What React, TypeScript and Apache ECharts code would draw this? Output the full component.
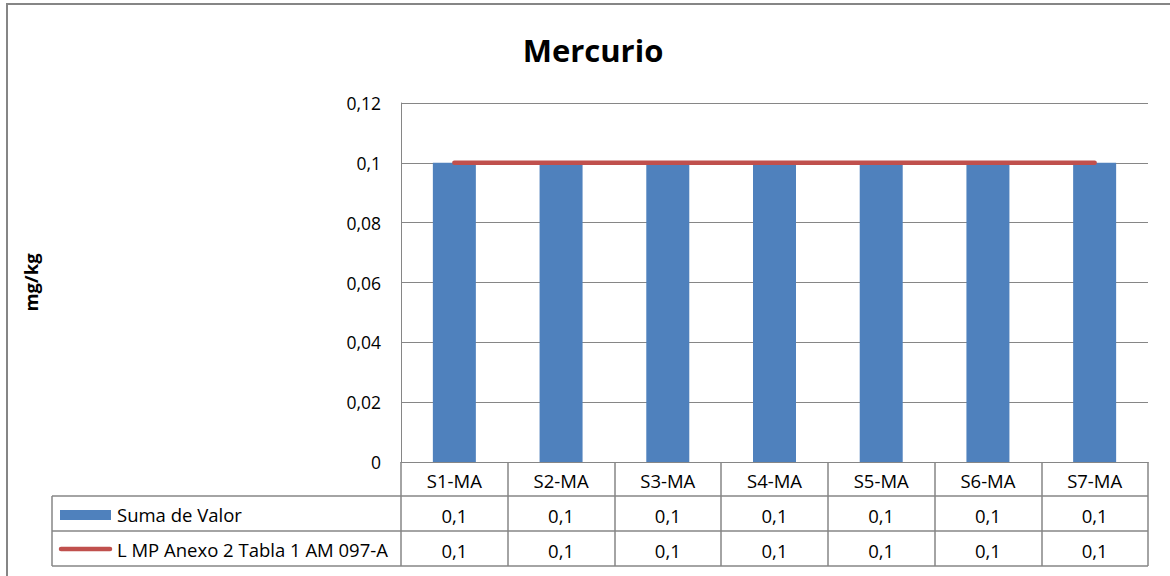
import React, { useEffect, useRef } from "react";
import * as echarts from "echarts";

const categories = ["S1-MA", "S2-MA", "S3-MA", "S4-MA", "S5-MA", "S6-MA", "S7-MA"];
const sumaDeValor = [0.1, 0.1, 0.1, 0.1, 0.1, 0.1, 0.1];
const limiteMP = [0.1, 0.1, 0.1, 0.1, 0.1, 0.1, 0.1];
const seriesNames = ["Suma de Valor", "L MP Anexo 2 Tabla 1 AM 097-A"];
const yMin = 0;
const yMax = 0.12;
const yStep = 0.02;
const chartTitle = "Mercurio";
const yName = "mg/kg";

const fmt = (v: number) => String(Math.round(v * 1000) / 1000).replace(".", ",");

const FONT = "'Open Sans', 'Noto Sans', sans-serif";
const GRID = "#868686";
const BLUE = "#4F81BD";
const RED = "#C0504D";
const FS = 18.5;

export default function App() {
  const ref = useRef<HTMLDivElement>(null);
  useEffect(() => {
    if (!ref.current) return;
    const chart = echarts.init(ref.current, undefined, { renderer: "svg" });
    const gridLeft = 401;
    const gridTop = 103;
    const gridW = 747;
    const gridH = 359;
    const rowH = 35;
    const tableLeft = 52;
    const tableRight = gridLeft + gridW;
    const baseY = gridTop + gridH;

    const labelStyle = { fontFamily: FONT, fontSize: FS, color: "#000" };
    const valueAxis = (offset: number, values: number[]) => ({
      type: "category",
      data: categories,
      gridIndex: 0,
      position: "bottom",
      offset,
      axisLine: { show: false },
      axisTick: { show: false },
      axisLabel: {
        ...labelStyle,
        margin: 7,
        lineHeight: 22,
        interval: 0,
        formatter: (_: string, i: number) => fmt(values[i]),
      },
    });

    chart.setOption({
      animation: false,
      backgroundColor: "#fff",
      grid: { left: gridLeft, top: gridTop, width: gridW, height: gridH, containLabel: false },
      xAxis: [
        {
          type: "category",
          data: categories,
          axisLine: { show: true, lineStyle: { color: GRID, width: 1 } },
          axisTick: { show: true, length: rowH * 3 - 1, lineStyle: { color: GRID, width: 1.5 } },
          axisLabel: { ...labelStyle, margin: 7, lineHeight: 22, interval: 0 },
        },
        valueAxis(rowH, sumaDeValor),
        valueAxis(rowH * 2, limiteMP),
      ],
      yAxis: {
        type: "value",
        min: yMin,
        max: yMax,
        interval: yStep,
        name: yName,
        nameLocation: "middle",
        nameRotate: 90,
        nameGap: 361,
        nameTextStyle: { fontFamily: FONT, fontSize: 18.5, fontWeight: "bold", color: "#000" },
        axisLine: { show: true, lineStyle: { color: GRID, width: 1 } },
        axisTick: { show: false },
        axisLabel: { fontFamily: FONT, fontSize: 17.5, color: "#000", margin: 20, formatter: (v: number) => fmt(v) },
        splitLine: { show: true, lineStyle: { color: GRID, width: 1 } },
      },
      series: [
        {
          name: seriesNames[0],
          type: "bar",
          data: sumaDeValor,
          barWidth: 43,
          itemStyle: { color: BLUE },
        },
        {
          name: seriesNames[1],
          type: "line",
          data: limiteMP,
          symbol: "none",
          lineStyle: { color: RED, width: 4.5, cap: "round" },
          z: 5,
        },
      ],
      graphic: [
        {
          type: "rect",
          shape: { x: 7, y: 4, width: 1200, height: 620 },
          style: { fill: "none", stroke: GRID, lineWidth: 2 },
          silent: true,
        },
        {
          type: "text",
          x: 593,
          y: 50,
          style: {
            text: chartTitle,
            fontFamily: FONT,
            fontSize: 31,
            fontWeight: "bold",
            fill: "#000",
            textAlign: "center",
            textVerticalAlign: "middle",
          },
        },
        ...[1, 2, 3].map((k) => ({
          type: "line",
          shape: { x1: tableLeft, y1: baseY + rowH * k - 1, x2: tableRight, y2: baseY + rowH * k - 1 },
          style: { stroke: GRID, lineWidth: 1.5 },
        })),
        {
          type: "line",
          shape: { x1: tableLeft, y1: baseY + rowH - 1, x2: tableLeft, y2: baseY + rowH * 3 - 1 },
          style: { stroke: GRID, lineWidth: 1.5 },
        },
        {
          type: "rect",
          shape: { x: 60, y: baseY + rowH + 13, width: 51, height: 10 },
          style: { fill: BLUE },
        },
        {
          type: "line",
          shape: { x1: 61, y1: baseY + rowH * 2 + 17, x2: 110, y2: baseY + rowH * 2 + 17 },
          style: { stroke: RED, lineWidth: 4.5, lineCap: "round" },
        },
        ...seriesNames.map((n, i) => ({
          type: "text",
          x: 117,
          y: baseY + rowH * (i + 1) + 17,
          style: {
            text: n,
            fontFamily: FONT,
            fontSize: FS,
            fill: "#000",
            textAlign: "left",
            textVerticalAlign: "middle",
          },
        })),
      ],
    });
    return () => chart.dispose();
  }, []);
  return (
    <div
      ref={ref}
      style={{ position: "fixed", left: 0, top: 0, width: 1170, height: 576 }}
    />
  );
}
